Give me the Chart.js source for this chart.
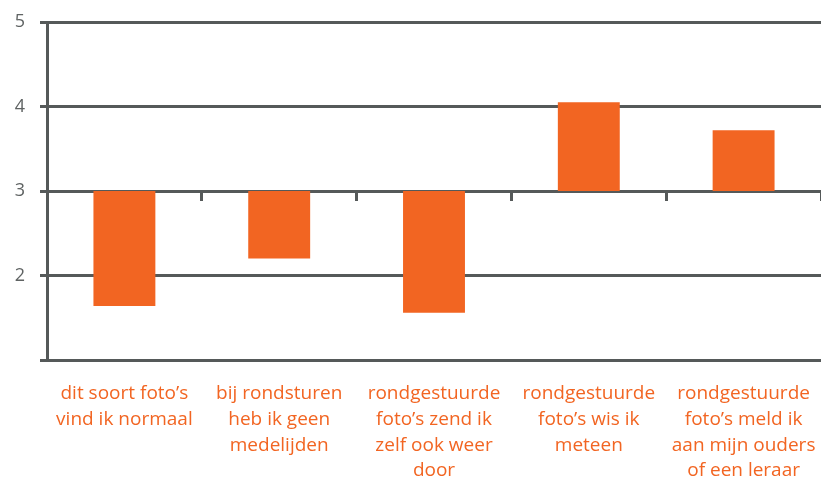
<!DOCTYPE html>
<html>
<head>
<meta charset="utf-8">
<script src="https://cdn.jsdelivr.net/npm/chart.js@4"></script>
<style>
html,body{margin:0;padding:0;background:#fff;}
#wrap{width:821px;height:478px;}
</style>
</head>
<body>
<div id="wrap"><canvas id="c" width="821" height="478"></canvas></div>
<script>
const categories = [
  ["dit soort foto’s", "vind ik normaal"],
  ["bij rondsturen", "heb ik geen", "medelijden"],
  ["rondgestuurde", "foto’s zend ik", "zelf ook weer", "door"],
  ["rondgestuurde", "foto’s wis ik", "meteen"],
  ["rondgestuurde", "foto’s meld ik", "aan mijn ouders", "of een leraar"]
];
const baseline = 3;
const scores = [1.64, 2.20, 1.56, 4.05, 3.72];
const yTicks = [1, 2, 3, 4, 5];
const yTickLabels = ["", "2", "3", "4", "5"];

const orange = "#F26522";
const gray = "#555959";
const fontFamily = "'Open Sans', sans-serif";

new Chart(document.getElementById('c'), {
  type: 'bar',
  data: {
    labels: categories,
    datasets: [{
      data: scores.map(v => [baseline, v]),
      backgroundColor: orange,
      borderWidth: 0,
      barPercentage: 0.4,
      categoryPercentage: 1.0
    }]
  },
  options: {
    responsive: false,
    animation: false,
    layout: { padding: { top: 22, right: 0, left: 0, bottom: 0 } },
    plugins: { legend: { display: false }, tooltip: { enabled: false } },
    scales: {
      x: {
        type: 'category',
        position: 'bottom',
        offset: true,
        grid: { display: false, drawTicks: true, tickLength: 19, offset: true },
        border: { display: false },
        ticks: {
          color: orange,
          font: { family: fontFamily, size: 19, lineHeight: 1.35 },
          padding: 2,
          maxRotation: 0,
          autoSkip: false
        },
        afterFit: s => { s.height = 118; s.paddingLeft = 0; s.paddingRight = 0; }
      },
      x2: {
        type: 'category',
        position: { y: baseline },
        offset: true,
        z: 1,
        grid: { display: true, drawOnChartArea: false, drawTicks: true, tickLength: 8, lineWidth: 3, color: gray, offset: true },
        border: { display: true, color: gray, width: 3 },
        ticks: { display: false }
      },
      y: {
        type: 'linear',
        min: 1,
        max: 5,
        afterBuildTicks: s => { s.ticks = yTicks.map(v => ({ value: v })); },
        ticks: {
          stepSize: 1,
          color: "#5f6363",
          font: { family: fontFamily, size: 18 },
          padding: 15,
          callback: (v) => yTickLabels[yTicks.indexOf(v)]
        },
        grid: { color: gray, lineWidth: 3, tickLength: 7 },
        border: { color: gray, width: 3 },
        afterFit: s => { s.width = 47; s.paddingTop = 0; s.paddingBottom = 0; }
      }
    }
  }
});
</script>
</body>
</html>
